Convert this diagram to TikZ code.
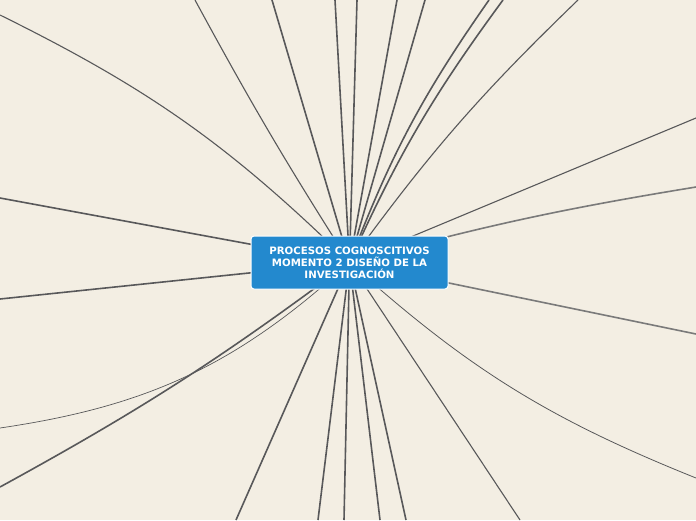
\documentclass[tikz,border=0pt]{standalone}
\usepackage{fontspec}
\newfontfamily\boxfont{DejaVu Sans}
\definecolor{paper}{HTML}{F3EEE3}
\definecolor{branch}{HTML}{58585A}
\definecolor{branchlight}{HTML}{7A7A7A}
\definecolor{topicblue}{HTML}{2389CE}
\begin{document}
\begin{tikzpicture}[x=1pt, y=-1pt,
    every node/.style={inner sep=4},
    link/.style={draw=branch, line width=1.6pt},
    thinlink/.style={draw=branch, line width=1.1pt},
    topic/.style={rectangle, rounded corners=3pt, fill=topicblue, draw=white, line width=1pt,
        minimum width=197, minimum height=53, text=white, align=center,
        font=\boxfont\bfseries\fontsize{10.2}{12}\selectfont}]
    \fill[paper] (0,0) rectangle (696,520);
    \useasboundingbox (0,0) rectangle (696,520);

    \coordinate (c) at (349.5, 262.5);

    % ends on the top edge
    \coordinate (t1) at (195,0);
    \coordinate (t2) at (272,0);
    \coordinate (t3) at (335,0);
    \coordinate (t4) at (357,0);
    \coordinate (t5) at (397,0);
    \coordinate (t6) at (425,0);
    \coordinate (t7) at (489,0);
    \coordinate (t8) at (503,0);
    \coordinate (t9) at (578,0);

    % ends on the right edge
    \coordinate (r1) at (696,118);
    \coordinate (r2) at (696,187);
    \coordinate (r3) at (696,334);
    \coordinate (r4) at (696,478);

    % ends on the bottom edge
    \coordinate (b1) at (520,520);
    \coordinate (b2) at (406,520);
    \coordinate (b3) at (380,520);
    \coordinate (b4) at (344,520);
    \coordinate (b5) at (318,520);
    \coordinate (b6) at (236,520);

    % ends on the left edge
    \coordinate (l1) at (0,487);
    \coordinate (l2) at (0,428);
    \coordinate (l3) at (0,299);
    \coordinate (l4) at (0,198);
    \coordinate (l5) at (0,15);

    \draw[thinlink] (c) to[bend left=2] (t1);
    \draw[link] (c) -- (t2);
    \draw[link] (c) -- (t3);
    \draw[link] (c) -- (t4);
    \draw[link] (c) -- (t5);
    \draw[link] (c) -- (t6);
    \draw[link] (c) to[bend left=7] (t7);
    \draw[link] (c) to[bend left=6] (t8);
    \draw[thinlink] (c) to[bend left=5] (t9);

    \draw[thinlink] (c) -- (r1);
    \draw[link, draw=branchlight] (c) to[bend left=3] (r2);
    \draw[link, draw=branchlight] (c) -- (r3);
    \draw[thinlink, line width=0.8pt] (c) to[bend right=10] (r4);

    \draw[thinlink] (c) -- (b1);
    \draw[link] (c) -- (b2);
    \draw[link] (c) -- (b3);
    \draw[link] (c) -- (b4);
    \draw[link] (c) -- (b5);
    \draw[link] (c) -- (b6);

    \draw[link] (c) to[bend left=4] (l1);
    \draw[thinlink, line width=0.7pt] (c) to[bend left=17] (l2);
    \draw[link] (c) -- (l3);
    \draw[link] (c) -- (l4);
    \draw[thinlink] (c) to[bend right=9] (l5);

    \draw(c) node [topic] (root){PROCESOS COGNOSCITIVOS\\MOMENTO 2 DISEÑO DE LA\\INVESTIGACIÓN};
\end{tikzpicture}
\end{document}
